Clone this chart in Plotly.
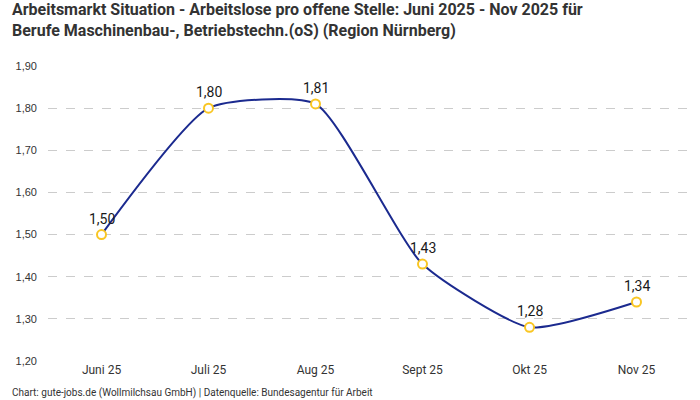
import plotly.graph_objects as go

categories = ["Juni 25", "Juli 25", "Aug 25", "Sept 25", "Okt 25", "Nov 25"]
values = [1.50, 1.80, 1.81, 1.43, 1.28, 1.34]
labels = ["1,50", "1,80", "1,81", "1,43", "1,28", "1,34"]
y_ticks = [1.2, 1.3, 1.4, 1.5, 1.6, 1.7, 1.8, 1.9]

title_lines = ["Arbeitsmarkt Situation - Arbeitslose pro offene Stelle: Juni 2025 - Nov 2025 für",
               "Berufe Maschinenbau-, Betriebstechn.(oS) (Region Nürnberg)"]
footer = "Chart: gute-jobs.de (Wollmilchsau GmbH) | Datenquelle: Bundesagentur für Arbeit"

L, R, T, B = 48, 10, 66, 39
W, H = 700, 400
pw, ph = W - L - R, H - T - B

fig = go.Figure()
fig.add_trace(go.Scatter(
    x=categories, y=values,
    mode="lines+markers",
    line=dict(color="#1b2a8f", width=2, shape="spline", smoothing=0.55),
    marker=dict(size=9, color="white", line=dict(color="#f9c623", width=2)),
    cliponaxis=False,
    hoverinfo="skip",
))

for c, v, t in zip(categories, values, labels):
    fig.add_annotation(x=c, y=v, text=t, showarrow=False, yshift=16,
                       xanchor="center", yanchor="middle",
                       font=dict(family="Roboto", size=14, color="#1a1a1a"))

fig.update_layout(
    width=W, height=H,
    margin=dict(l=L, r=R, t=T, b=B, autoexpand=False),
    paper_bgcolor="white", plot_bgcolor="white",
    separators=",.",
    showlegend=False,
    xaxis=dict(type="category", range=[-0.5, 5.5], showgrid=False, zeroline=False,
               showline=False, ticks="", automargin=False,
               tickfont=dict(family="Roboto", size=12, color="#333333")),
    yaxis=dict(range=[1.2, 1.9], tickvals=y_ticks, tickformat=".2f",
               showgrid=True, gridcolor="#cccccc", griddash="dash", gridwidth=1,
               zeroline=False, showline=False, ticks="", ticklabelstandoff=10,
               automargin=False,
               tickfont=dict(family="Liberation Sans", size=11, color="#333333")),
)

fig.add_annotation(text="<b>" + "<br>".join(title_lines) + "</b>", xref="paper", yref="paper",
                   x=(10 - L) / pw, y=1 + (T - 20) / ph,
                   xanchor="left", yanchor="middle", align="left", showarrow=False,
                   font=dict(family="Roboto", size=16, color="#333333"))

fig.add_annotation(text=footer, xref="paper", yref="paper", x=(10 - L) / pw,
                   y=-(393 - (H - B)) / ph,
                   xanchor="left", yanchor="middle", showarrow=False,
                   font=dict(family="Roboto", size=10, color="#333333"))

fig.write_html("out.html", config={"displayModeBar": False},
               post_script="document.body.style.margin='0';document.body.style.padding='0';")
